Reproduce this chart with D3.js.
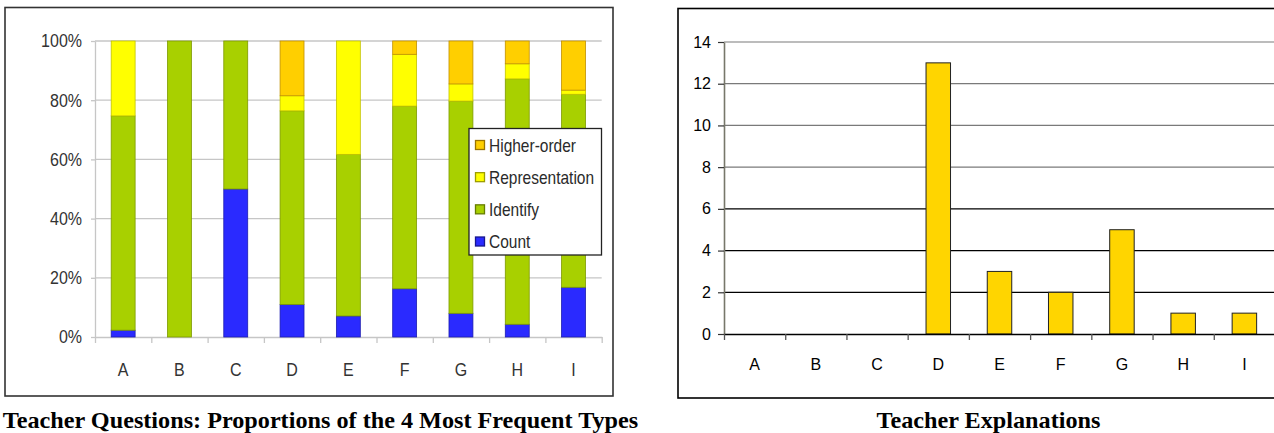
<!DOCTYPE html>
<html>
<head>
<meta charset="utf-8">
<script src="https://cdn.jsdelivr.net/npm/d3@7"></script>
<style>
  body { margin: 0; background: #fff; }
  svg { display: block; }
</style>
</head>
<body>
<svg id="chart" width="1274" height="433"></svg>
<script>
// ---- data ----
const categories = ["A", "B", "C", "D", "E", "F", "G", "H", "I"];
const seriesNames = ["Count", "Identify", "Representation", "Higher-order"];
const countPct          = [2.3, 0, 50, 11.0, 7.1, 16.3, 8.0, 4.3, 16.8];
const identifyPct       = [72.4, 100, 50, 65.4, 54.6, 61.7, 71.7, 82.9, 65.2];
const representationPct = [25.3, 0, 0, 5.1, 38.3, 17.5, 5.8, 5.1, 1.4];
const higherOrderPct    = [0, 0, 0, 18.5, 0, 4.5, 14.5, 7.7, 16.6];
const pctTicks = [0, 20, 40, 60, 80, 100];

const explanations = [0, 0, 0, 13, 3, 2, 5, 1, 1];
const explanationTicks = [0, 2, 4, 6, 8, 10, 12, 14];

const leftTitle = "Teacher Questions: Proportions of the 4 Most Frequent Types";
const rightTitle = "Teacher Explanations";

const seriesFill = {
  "Count": "#2a2aff",
  "Identify": "#a8d000",
  "Representation": "#ffff00",
  "Higher-order": "#ffcf00"
};
const seriesStroke = {
  "Count": "#1c1cb0",
  "Identify": "#7e9a00",
  "Representation": "#c2c200",
  "Higher-order": "#c09000"
};

const svg = d3.select("#chart");
const sansFont = "'Liberation Sans', Arial, sans-serif";
const serifFont = "'Liberation Serif', 'Times New Roman', serif";
const textStretch = 1.17;

// ================= left: stacked proportions =================
const left = svg.append("g");
left.append("rect")
  .attr("x", 5).attr("y", 7.5).attr("width", 608).attr("height", 388.5)
  .attr("fill", "#fff").attr("stroke", "#333").attr("stroke-width", 1.6);

const xL = d3.scaleBand().domain(categories).range([95, 601.7])
  .paddingInner(0.575).paddingOuter(0.2875);
const yL = d3.scaleLinear().domain([0, 100]).range([337, 41]);
const xLEdges = d3.scaleLinear().domain([0, categories.length]).range([95, 601.7]);

// horizontal gridlines
left.append("g").selectAll("line")
  .data(pctTicks.filter(d => d > 0))
  .join("line")
  .attr("x1", 95).attr("x2", 601.7)
  .attr("y1", d => yL(d)).attr("y2", d => yL(d))
  .attr("stroke", "#c6c6c6").attr("stroke-width", 1.3);

// y axis
const yAxisL = left.append("g").attr("transform", "translate(95,0)")
  .call(d3.axisLeft(yL).tickValues(pctTicks).tickSize(4).tickSizeOuter(0)
    .tickPadding(9).tickFormat(d => d + "%"));
yAxisL.select(".domain").attr("stroke", "#c6c6c6").attr("stroke-width", 1.3);
yAxisL.selectAll(".tick line").attr("stroke", "#c6c6c6").attr("stroke-width", 1.3);
yAxisL.selectAll(".tick text")
  .attr("fill", "#333").style("font-family", sansFont).style("font-size", "16px")
  .attr("transform", `scale(1,${textStretch})`);

// x axis: edge ticks + centred labels
const xEdgeAxisL = left.append("g").attr("transform", "translate(0,337)")
  .call(d3.axisBottom(xLEdges).tickValues(d3.range(categories.length + 1))
    .tickSize(6).tickSizeOuter(0).tickFormat(() => ""));
xEdgeAxisL.select(".domain").attr("stroke", "#c6c6c6").attr("stroke-width", 1.3);
xEdgeAxisL.selectAll(".tick line").attr("stroke", "#c6c6c6").attr("stroke-width", 1.3);

const xLabelAxisL = left.append("g").attr("transform", "translate(0,337)")
  .call(d3.axisBottom(xL).tickSize(0).tickSizeOuter(0));
xLabelAxisL.select(".domain").remove();
xLabelAxisL.selectAll(".tick text")
  .attr("y", 21.7)
  .attr("fill", "#333").style("font-family", sansFont).style("font-size", "16px")
  .attr("transform", `scale(1,${textStretch})`);

// stacked bars
const rows = categories.map((c, i) => ({
  cat: c,
  "Count": countPct[i],
  "Identify": identifyPct[i],
  "Representation": representationPct[i],
  "Higher-order": higherOrderPct[i]
}));
const stacked = d3.stack().keys(seriesNames)(rows);

left.append("g").selectAll("g")
  .data(stacked)
  .join("g")
  .attr("fill", s => seriesFill[s.key])
  .attr("stroke", s => seriesStroke[s.key])
  .attr("stroke-width", 0.8)
  .selectAll("rect")
  .data(s => s.filter(d => d[1] - d[0] > 0))
  .join("rect")
  .attr("x", d => xL(d.data.cat))
  .attr("width", xL.bandwidth())
  .attr("y", d => yL(d[1]))
  .attr("height", d => yL(d[0]) - yL(d[1]));

// legend
const legend = left.append("g");
legend.append("rect")
  .attr("x", 469).attr("y", 128.5).attr("width", 132.5).attr("height", 126.5)
  .attr("fill", "#fff").attr("stroke", "#222").attr("stroke-width", 1.3);
const legendOrder = seriesNames.slice().reverse();
const legendY = d3.scalePoint().domain(legendOrder).range([145, 241.5]);
const legendItem = legend.selectAll("g.item")
  .data(legendOrder)
  .join("g")
  .attr("class", "item")
  .attr("transform", d => `translate(0,${legendY(d)})`);
legendItem.append("rect")
  .attr("x", 475.5).attr("y", -4.5).attr("width", 9).attr("height", 9)
  .attr("fill", d => seriesFill[d]).attr("stroke", d => d3.color(seriesStroke[d]).darker(0.6))
  .attr("stroke-width", 1.3);
legendItem.append("text")
  .attr("transform", `translate(489,0) scale(1,${textStretch})`)
  .attr("dy", "0.36em")
  .attr("fill", "#2a2a2a").style("font-family", sansFont).style("font-size", "15.5px")
  .text(d => d);

// captions under each panel
function caption(cx, text) {
  svg.append("text")
    .attr("transform", `translate(${cx},428.3) scale(1.026,1)`)
    .attr("text-anchor", "middle")
    .style("font-family", serifFont).style("font-weight", "bold").style("font-size", "23.6px")
    .attr("fill", "#000")
    .text(text);
}
caption(320.5, leftTitle);

// ================= right: explanation counts =================
const right = svg.append("g");
right.append("rect")
  .attr("x", 678).attr("y", 8.5).attr("width", 700).attr("height", 389.5)
  .attr("fill", "#fff").attr("stroke", "#000").attr("stroke-width", 1.6);

const xR = d3.scaleBand().domain(categories).range([724, 1275])
  .paddingInner(0.6).paddingOuter(0.3);
const yR = d3.scaleLinear().domain([0, 14]).range([334, 42]);
const xREdges = d3.scaleLinear().domain([0, categories.length]).range([724, 1275]);

right.append("g").selectAll("line")
  .data(explanationTicks.filter(d => d > 0))
  .join("line")
  .attr("x1", 724).attr("x2", 1275)
  .attr("y1", d => yR(d)).attr("y2", d => yR(d))
  .attr("stroke", d => d >= 8 ? "#7a7a7a" : "#000")
  .attr("stroke-width", 1.2);

right.append("g").selectAll("rect")
  .data(explanations.map((v, i) => ({ cat: categories[i], v })).filter(d => d.v > 0))
  .join("rect")
  .attr("x", d => xR(d.cat))
  .attr("width", xR.bandwidth())
  .attr("y", d => yR(d.v))
  .attr("height", d => yR(0) - yR(d.v))
  .attr("fill", "#ffd500")
  .attr("stroke", "#222").attr("stroke-width", 1);

const yAxisR = right.append("g").attr("transform", "translate(724,0)")
  .call(d3.axisLeft(yR).tickValues(explanationTicks).tickSize(6).tickSizeOuter(0).tickPadding(7));
yAxisR.select(".domain").attr("stroke", "#77776a").attr("stroke-width", 1.6);
yAxisR.selectAll(".tick line").attr("stroke", "#333").attr("stroke-width", 1.2);
yAxisR.selectAll(".tick text")
  .attr("fill", "#000").style("font-family", sansFont).style("font-size", "16px");

const xEdgeAxisR = right.append("g").attr("transform", "translate(0,334)")
  .call(d3.axisBottom(xREdges).tickValues(d3.range(categories.length + 1))
    .tickSize(6).tickSizeOuter(0).tickFormat(() => ""));
xEdgeAxisR.select(".domain").attr("stroke", "#000").attr("stroke-width", 1.3);
xEdgeAxisR.selectAll(".tick line").attr("stroke", "#555").attr("stroke-width", 1.3);

const xLabelAxisR = right.append("g").attr("transform", "translate(0,334)")
  .call(d3.axisBottom(xR).tickSize(0).tickSizeOuter(0));
xLabelAxisR.select(".domain").remove();
xLabelAxisR.selectAll(".tick text")
  .attr("y", 24.6)
  .attr("fill", "#000").style("font-family", sansFont).style("font-size", "16px");

caption(988.5, rightTitle);
</script>
</body>
</html>
